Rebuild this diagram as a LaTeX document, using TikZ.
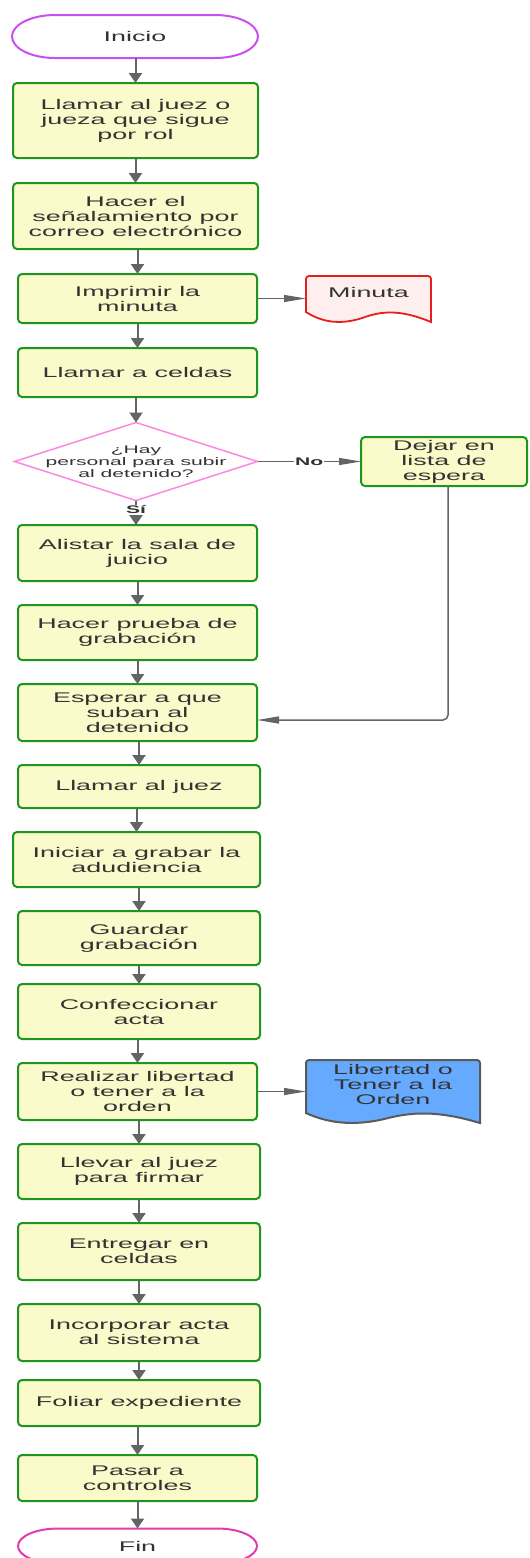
\documentclass[tikz,border=0pt]{standalone}
\usepackage{fontspec}
\setmainfont[FakeStretch=1.92]{Liberation Sans}
\usetikzlibrary{arrows.meta,shapes.geometric,calc}
\definecolor{boxgreen}{RGB}{30,150,30}
\definecolor{boxfill}{RGB}{250,250,202}
\definecolor{txt}{RGB}{51,51,51}
\definecolor{arrgray}{RGB}{100,100,100}
\definecolor{startpurple}{RGB}{200,80,240}
\definecolor{endmagenta}{RGB}{224,60,176}
\definecolor{decpink}{RGB}{255,136,221}
\definecolor{minred}{RGB}{230,30,30}
\definecolor{minfill}{RGB}{255,238,238}
\definecolor{libblue}{RGB}{102,170,255}
\definecolor{libborder}{RGB}{90,90,90}
\newcommand\docoutline[2]{%
  \draw[#1] let \p1=(#2.north west), \p2=(#2.south east), \n1={\x2-\x1} in
    (\x1,\y2+10pt) [rounded corners=3pt] -- (\x1,\y1) -- (\x2,\y1) [sharp corners] -- (\x2,\y2)
    .. controls ({\x1+0.75*\n1},\y2+13pt) and ({\x1+0.6*\n1},\y2+11pt) .. ({\x1+0.45*\n1},\y2+4pt)
    .. controls ({\x1+0.3*\n1},\y2-2pt) and ({\x1+0.15*\n1},\y2-2pt) .. (\x1,\y2+10pt) -- cycle;}
\newcommand\stadium[4]{% style, node, rx, ry
  \draw[#1] ([xshift=#3]#2.north west) -- ([xshift=-#3]#2.north east)
    arc[start angle=90,end angle=-90,x radius=#3,y radius=#4]
    -- ([xshift=#3]#2.south west)
    arc[start angle=270,end angle=90,x radius=#3,y radius=#4] -- cycle;}
\begin{document}
\begin{tikzpicture}[x=1pt,y=-1pt,
  box/.style={draw=boxgreen, fill=boxfill, line width=2pt, rounded corners=4pt,
    align=center, text=txt, font=\fontsize{14}{15}\selectfont, inner sep=0pt, outer sep=0pt},
  plain/.style={align=center, text=txt, font=\fontsize{14}{15}\selectfont, inner sep=0pt, outer sep=0pt},
  small/.style={align=center, text=txt, font=\fontsize{11}{12}\selectfont, inner sep=0pt, outer sep=0pt},
  lbl/.style={text=txt, font=\fontsize{11}{12}\selectfont\bfseries, fill=white, inner sep=1pt},
  varr/.style={draw=arrgray, line width=2pt, -{Triangle[length=10pt,width=13pt]}},
  harr/.style={draw=arrgray, line width=1.1pt, -{Triangle[length=22pt,width=7pt]}},
  looparr/.style={draw=arrgray, line width=1.5pt, rounded corners=5pt, -{Triangle[length=22pt,width=7pt]}},
]
\fill[white] (0,0) rectangle (530,1558);
\useasboundingbox (0,0) rectangle (530,1558);

% start
\node[plain, minimum width=246pt, minimum height=43pt] (inicio) at (135,36.5) {};
\stadium{draw=startpurple, fill=white, line width=2pt}{inicio}{43pt}{21.5pt}
\node[plain] (iniciot) at (inicio.center) {Inicio};

\node[box, minimum width=245pt, minimum height=75pt] (b1) at (135.5,120.5) {Llamar al juez o\\jueza que sigue\\por rol};
\node[box, minimum width=245pt, minimum height=66pt] (b2) at (135.5,216) {Hacer el\\señalamiento por\\correo electrónico};
\node[box, minimum width=239pt, minimum height=49pt] (b3) at (137.5,298.5) {Imprimir la\\minuta};
\node[plain, minimum width=125pt, minimum height=46pt] (minuta) at (368.5,299) {};
\docoutline{draw=minred, fill=minfill, line width=1.8pt}{minuta}
\node[plain] (minutat) at ([yshift=7pt]minuta.center) {Minuta};

\node[box, minimum width=239pt, minimum height=49pt] (b4) at (137.5,372.5) {Llamar a celdas};

\node[diamond, draw=decpink, fill=white, line width=1.5pt, minimum width=243pt, minimum height=78pt, inner sep=0pt, outer sep=0pt] (dia) at (136,461.5) {};
\node[small] (diat) at (dia.center) {¿Hay\\personal para subir\\al detenido?};

\node[box, minimum width=166pt, minimum height=49pt] (dejar) at (444,461.5) {Dejar en\\lista de\\espera};

\node[box, minimum width=239pt, minimum height=56pt] (b5) at (137.5,553) {Alistar la sala de\\juicio};
\node[box, minimum width=239pt, minimum height=55pt] (b6) at (137.5,632.5) {Hacer prueba de\\grabación};
\node[box, minimum width=239pt, minimum height=57pt] (b7) at (137.5,712.5) {Esperar a que\\suban al\\detenido};
\node[box, minimum width=242pt, minimum height=43pt] (b8) at (139,786.5) {Llamar al juez};
\node[box, minimum width=247pt, minimum height=55pt] (b9) at (136.5,859.5) {Iniciar a grabar la\\adudiencia};
\node[box, minimum width=242pt, minimum height=54pt] (b10) at (139,938) {Guardar\\grabación};
\node[box, minimum width=242pt, minimum height=55pt] (b11) at (139,1011.5) {Confeccionar\\acta};
\node[box, minimum width=239pt, minimum height=57pt] (b12) at (137.5,1091.5) {Realizar libertad\\o tener a la\\orden};
\node[plain, minimum width=174pt, minimum height=63pt] (lib) at (393,1091.5) {};
\docoutline{draw=libborder, fill=libblue, line width=2pt}{lib}
\node[plain] (libt) at ([yshift=7.5pt]lib.center) {Libertad o\\Tener a la\\Orden};
\node[box, minimum width=242pt, minimum height=55pt] (b13) at (139,1171.5) {Llevar al juez\\para firmar};
\node[box, minimum width=242pt, minimum height=57pt] (b14) at (139,1251.5) {Entregar en\\celdas};
\node[box, minimum width=242pt, minimum height=57pt] (b15) at (139,1332.5) {Incorporar acta\\al sistema};
\node[box, minimum width=242pt, minimum height=46pt] (b16) at (139,1403) {Foliar expediente};
\node[box, minimum width=239pt, minimum height=46pt] (b17) at (137.5,1478) {Pasar a\\controles};

\node[plain, minimum width=239pt, minimum height=35pt] (fin) at (137.5,1546) {};
\stadium{draw=endmagenta, fill=white, line width=2pt}{fin}{40pt}{17.5pt}
\node[plain] (fint) at (fin.center) {Fin};

% vertical connectors
\foreach \a/\b in {inicio/b1,b1/b2,b2/b3,b3/b4,b4/dia,b5/b6,b6/b7,b7/b8,b8/b9,b9/b10,b10/b11,b11/b12,b12/b13,b13/b14,b14/b15,b15/b16,b16/b17,b17/fin}
  \draw[varr] (\a.south -| \b.north) -- (\b.north);

\draw[varr] (dia.south) -- node[lbl, pos=0.38] (si) {Sí} (dia.south |- b5.north);
\draw[harr] (dia.east) -- node[lbl] (no) {No} (dejar.west);
\draw[harr] (b3.east) -- (b3.east -| minuta.west);
\draw[harr] (b12.east) -- (b12.east -| lib.west);
\draw[looparr] ([xshift=4pt]dejar.south) |- ([yshift=-7.5pt]b7.east);
\end{tikzpicture}
\end{document}
